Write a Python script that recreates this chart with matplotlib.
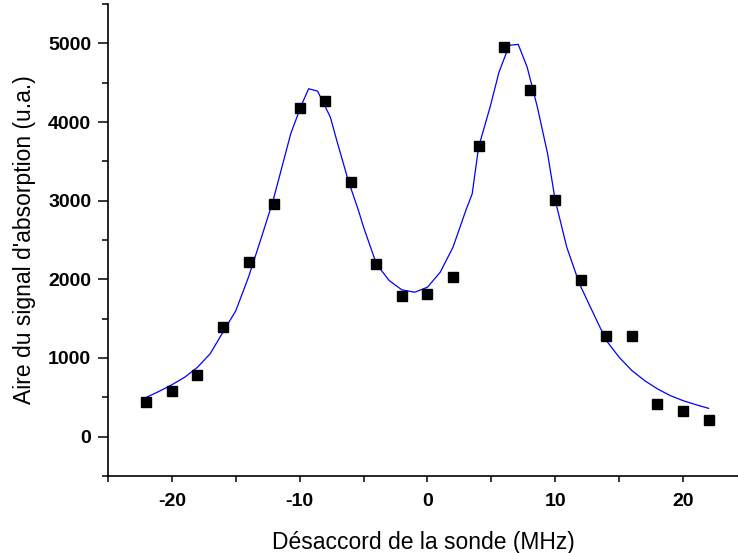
import numpy as np
import matplotlib.pyplot as plt
from matplotlib.ticker import MultipleLocator

# points de mesure
detuning = [-22, -20, -18, -16, -14, -12, -10, -8, -6, -4, -2, 0, 2, 4, 6, 8, 10, 12, 14, 16, 18, 20, 22]
aire = [445, 585, 785, 1400, 2214, 2960, 4173, 4266, 3236, 2200, 1794, 1815, 2035,
        3690, 4953, 4411, 3011, 1994, 1285, 1285, 411, 331, 216]

# courbe d'ajustement
fit_x = [-22, -21, -20, -19, -18, -17, -16, -15, -14, -13, -12.1, -10.7, -9.9, -9.3, -8.6,
         -7.6, -7.1, -6.2, -5.4, -5, -4, -3, -2, -1, 0, 1, 2, 3, 3.5, 4, 4.9, 5.6, 6.4,
         7.1, 7.8, 8.6, 9.4, 10, 10.9, 11.9, 13, 14, 15, 16, 17, 18, 19, 20, 21, 22]
fit_y = [500, 576, 660, 755, 882, 1055, 1330, 1600, 2030, 2530, 2990, 3851, 4200, 4423, 4393,
         4062, 3766, 3257, 2875, 2663, 2197, 1985, 1866, 1836, 1900, 2091, 2409, 2875, 3088, 3681, 4190, 4635, 4975,
         4987, 4698, 4190, 3597, 3003, 2409, 1940, 1561, 1221, 1009, 840, 712, 607, 522, 458, 407, 360]

plt.rcParams['font.family'] = ['Liberation Sans', 'DejaVu Sans']
plt.rcParams['axes.unicode_minus'] = False

fig = plt.figure(figsize=(7.38, 5.53), dpi=100)
ax = fig.add_axes([108/738, 77/553, 1 - 108/738, (476 - 4)/553])

ax.plot(fit_x, fit_y, color='#0000ff', lw=0.9)
ax.plot(detuning, aire, 's', color='black', markersize=7.2, linestyle='none')

ax.set_xlim(-25, 24.3)
ax.set_ylim(-500, 5500)
ax.xaxis.set_major_locator(MultipleLocator(10))
ax.xaxis.set_minor_locator(MultipleLocator(5))
ax.yaxis.set_major_locator(MultipleLocator(1000))
ax.yaxis.set_minor_locator(MultipleLocator(500))

for s in ['top', 'right']:
    ax.spines[s].set_visible(False)
for s in ['left', 'bottom']:
    ax.spines[s].set_linewidth(1.2)

ax.tick_params(axis='y', which='major', direction='out', length=7, width=1.1, labelsize=14, pad=5)
ax.tick_params(axis='y', which='minor', direction='out', length=4, width=1.1)
ax.tick_params(axis='x', which='both', direction='out', length=4, width=1.1, labelsize=14, pad=8)
for lab in ax.get_xticklabels() + ax.get_yticklabels():
    lab.set_fontweight('bold')

ax.set_xlabel("Désaccord de la sonde (MHz)", fontsize=16.5, labelpad=15)
ax.set_ylabel("Aire du signal d'absorption (u.a.)", fontsize=16.5, labelpad=9)

fig.savefig('out.png', dpi=100)
